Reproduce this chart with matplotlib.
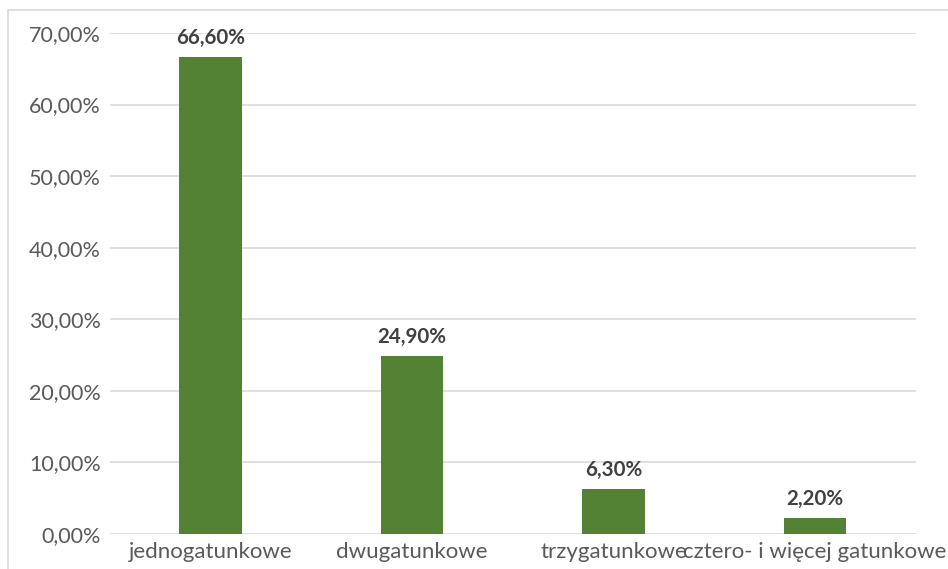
import matplotlib.pyplot as plt
from matplotlib.patches import Rectangle
from matplotlib.ticker import FuncFormatter

categories = ["jednogatunkowe", "dwugatunkowe", "trzygatunkowe", "cztero- i więcej gatunkowe"]
shares = [66.6, 24.9, 6.3, 2.2]
yticks = [0, 10, 20, 30, 40, 50, 60, 70]

plt.rcParams['font.family'] = ['Lato', 'DejaVu Sans']

fig = plt.figure(figsize=(9.48, 5.69), dpi=100)
ax = fig.add_axes([0.116, 0.0615, 0.85, 0.8805])

# chart frame
fig.patches.append(Rectangle((8/948, -0.01), 1.0, 1 - 10/569 + 0.01,
                             transform=fig.transFigure, fill=False,
                             edgecolor='#d9d9d9', linewidth=1.2))

x = range(len(categories))
bars = ax.bar(x, shares, width=0.31, color='#548235', zorder=3)

for b, v in zip(bars, shares):
    ax.text(b.get_x() + b.get_width()/2, v + 1.3, f"{v:.2f}%".replace('.', ','),
            ha='center', va='bottom', fontsize=14.8, fontweight='bold', color='#404040')

ax.set_xlim(-0.5, len(categories) - 0.5)
ax.set_ylim(0, 70)
ax.set_yticks(yticks)
ax.yaxis.set_major_formatter(FuncFormatter(lambda v, p: f"{v:.2f}%".replace('.', ',')))
ax.set_xticks(list(x))
ax.set_xticklabels(categories, fontsize=16)
ax.tick_params(axis='both', length=0, labelcolor='#595959')
ax.tick_params(axis='y', pad=6.5, labelsize=15.5)
ax.tick_params(axis='x', pad=5.5)
ax.grid(axis='y', color='#d9d9d9', linewidth=1.2, zorder=0)
for s in ax.spines.values():
    s.set_visible(False)

fig.savefig("out.png", dpi=100)
